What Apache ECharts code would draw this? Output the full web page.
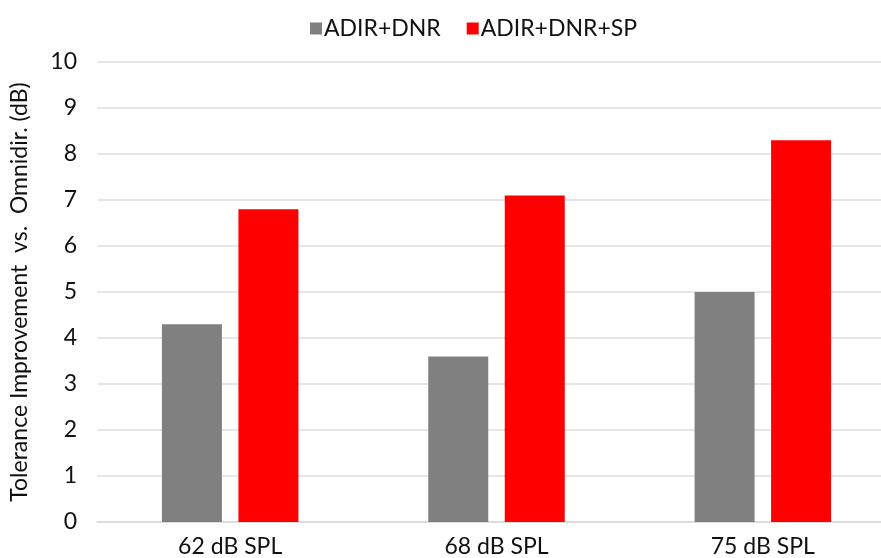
<!DOCTYPE html>
<html>
<head>
<meta charset="utf-8">
<script src="https://cdn.jsdelivr.net/npm/echarts@6/dist/echarts.min.js"></script>
<style>html,body{margin:0;padding:0;background:#fff;overflow:hidden;width:881px;height:558px}#c{width:896px;height:558px}</style>
</head>
<body>
<div id="c"></div>
<script>
const categories = ['62 dB SPL', '68 dB SPL', '75 dB SPL'];
const adirDnr = [4.3, 3.6, 5.0];
const adirDnrSp = [6.8, 7.1, 8.3];
const seriesNames = ['ADIR+DNR', 'ADIR+DNR+SP'];
const yTicks = { min: 0, max: 10, interval: 1 };
const yName = 'Tolerance Improvement  vs.  Omnidir. (dB)';

const font = 'Lato, "Open Sans", sans-serif';
const chart = echarts.init(document.getElementById('c'), null, { renderer: 'canvas' });
chart.setOption({
  animation: false,
  backgroundColor: '#fff',
  textStyle: { fontFamily: font, color: '#111' },
  legend: {
    top: 12, left: 305,
    itemWidth: 12, itemHeight: 12, itemGap: 26,
    icon: 'rect',
    textStyle: { fontFamily: font, fontSize: 23, color: '#111', padding: [0, 0, 0, -3] },
    data: seriesNames
  },
  grid: { left: 92, right: 0, top: 62, bottom: 35, containLabel: false },
  xAxis: {
    type: 'category',
    data: categories,
    axisLine: { lineStyle: { color: '#d9d9d9', width: 1.5 } },
    axisTick: { show: false },
    axisLabel: { fontFamily: font, fontSize: 23, color: '#111', margin: 13 }
  },
  yAxis: {
    type: 'value',
    min: yTicks.min, max: yTicks.max, interval: yTicks.interval,
    name: yName,
    nameLocation: 'middle',
    nameGap: 66,
    nameTextStyle: { fontFamily: font, fontSize: 23, color: '#111' },
    axisLine: { show: false },
    axisTick: { show: false },
    axisLabel: { fontFamily: font, fontSize: 23, color: '#111', margin: 20 },
    splitLine: { lineStyle: { color: '#dedede', width: 1.5 } }
  },
  series: [
    { name: seriesNames[0], type: 'bar', data: adirDnr, barWidth: 60, barGap: '27.5%',
      itemStyle: { color: '#808080' } },
    { name: seriesNames[1], type: 'bar', data: adirDnrSp, barWidth: 60, barGap: '27.5%',
      itemStyle: { color: '#ff0000' } }
  ]
});
</script>
</body>
</html>
